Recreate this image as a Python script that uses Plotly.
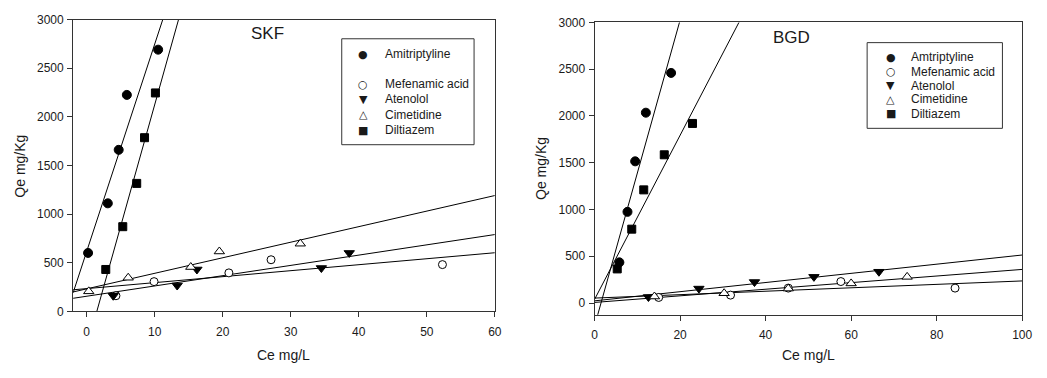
import numpy as np
import plotly.graph_objects as go

W, H = 1047, 378

# ---- SKF sorbent: equilibrium concentration Ce (mg/L) vs sorbed Qe (mg/Kg)
skf_ami_x = [0.2, 3.1, 4.7, 5.9, 10.5]
skf_ami_y = [600, 1110, 1660, 2225, 2690]
skf_mef_x = [4.3, 9.9, 20.9, 27.1, 52.3]
skf_mef_y = [160, 305, 395, 530, 480]
skf_ate_x = [3.9, 13.3, 16.2, 34.5, 38.6]
skf_ate_y = [160, 265, 430, 445, 600]
skf_cim_x = [0.3, 6.1, 15.3, 19.5, 31.4]
skf_cim_y = [205, 345, 455, 615, 695]
skf_dil_x = [2.8, 5.3, 7.35, 8.5, 10.1]
skf_dil_y = [430, 870, 1315, 1785, 2245]

# ---- BGD sorbent
bgd_ami_x = [5.8, 7.7, 9.5, 12.0, 17.9]
bgd_ami_y = [435, 975, 1515, 2035, 2460]
bgd_mef_x = [15.0, 31.8, 45.3, 57.6, 84.3]
bgd_mef_y = [60, 85, 160, 230, 160]
bgd_ate_x = [12.6, 24.4, 37.4, 51.3, 66.5]
bgd_ate_y = [65, 155, 225, 280, 335]
bgd_cim_x = [14.0, 30.3, 45.3, 60.0, 73.1]
bgd_cim_y = [70, 105, 155, 210, 280]
bgd_dil_x = [5.3, 8.7, 11.5, 16.3, 22.9]
bgd_dil_y = [365, 790, 1210, 1585, 1920]

skf_names = ["Amitriptyline", "Mefenamic acid", "Atenolol", "Cimetidine", "Diltiazem"]
bgd_names = ["Amtriptyline", "Mefenamic acid", "Atenolol", "Cimetidine", "Diltiazem"]

skf_xrange = [-2, 60]
skf_yrange = [0, 3000]
bgd_xrange = [0, 100]
bgd_yrange = [-124, 3000]

skf_xticks = [0, 10, 20, 30, 40, 50, 60]
bgd_xticks = [0, 20, 40, 60, 80, 100]
y_ticks = [0, 500, 1000, 1500, 2000, 2500, 3000]

# marker styles per compound: (symbol, fill)
styles = [
    ("circle", "black"),
    ("circle", "white"),
    ("triangle-down", "black"),
    ("triangle-up", "white"),
    ("square", "black"),
]
sizes = [9, 8, 9, 9, 8]
glyphs = ["\u25CF", "\u25CB", "\u25BC", "\u25B3", "\u25A0"]

FONT = "Liberation Sans, Arial, sans-serif"
AXC = "#333333"
TXT = "#1a1a1a"

fig = go.Figure()


def add_panel(xs, ys, xr, xa, ya):
    # linear isotherm fits first so the symbols sit on top
    for x, y in zip(xs, ys):
        k, b = np.polyfit(x, y, 1)
        lx = np.array(xr, dtype=float)
        fig.add_trace(go.Scatter(
            x=lx, y=k * lx + b, mode="lines",
            line=dict(color="black", width=1),
            xaxis=xa, yaxis=ya, showlegend=False, hoverinfo="skip"))
    for (x, y), (sym, fill), sz in zip(zip(xs, ys), styles, sizes):
        fig.add_trace(go.Scatter(
            x=x, y=y, mode="markers",
            marker=dict(symbol=sym, size=sz, color=fill,
                        line=dict(color="black", width=1)),
            xaxis=xa, yaxis=ya, showlegend=False, cliponaxis=False))


add_panel([skf_ami_x, skf_mef_x, skf_ate_x, skf_cim_x, skf_dil_x],
          [skf_ami_y, skf_mef_y, skf_ate_y, skf_cim_y, skf_dil_y],
          skf_xrange, "x", "y")
add_panel([bgd_ami_x, bgd_mef_x, bgd_ate_x, bgd_cim_x, bgd_dil_x],
          [bgd_ami_y, bgd_mef_y, bgd_ate_y, bgd_cim_y, bgd_dil_y],
          bgd_xrange, "x2", "y2")


def axis(domain, rng, ticks, anchor, standoff=0):
    return dict(domain=domain, range=rng, tickvals=ticks, anchor=anchor,
                ticks="outside", ticklen=5, tickwidth=1, tickcolor=AXC,
                ticklabelstandoff=standoff,
                showline=True, linecolor=AXC, linewidth=1, mirror=True,
                showgrid=False, zeroline=False,
                tickfont=dict(family=FONT, size=12, color=TXT))


def px(v):
    return v / W


def py(v):
    return 1 - v / H


fig.update_layout(
    width=W, height=H, margin=dict(l=0, r=0, t=0, b=0),
    paper_bgcolor="white", plot_bgcolor="white",
    xaxis=axis([px(71), px(498)], skf_xrange, skf_xticks, "y", 4),
    yaxis=axis([py(316), py(13)], skf_yrange, y_ticks, "x", 1),
    xaxis2=axis([px(599), px(1032)], bgd_xrange, bgd_xticks, "y2", 4),
    yaxis2=axis([py(319.5), py(16)], bgd_yrange, y_ticks, "x2", 1),
)

ann = []
shapes = []


def text(x, y, s, size, anchor="center", angle=0, family=FONT):
    ann.append(dict(x=px(x), y=py(y), xref="paper", yref="paper", text=s,
                    showarrow=False, xanchor=anchor, yanchor="middle",
                    textangle=angle, font=dict(family=family, size=size, color=TXT)))


# panel titles
text(268, 28, "SKF", 17)
text(798, 32, "BGD", 17)

# axis titles
text(284.5, 361, "Ce mg/L", 14)
text(815.5, 361, "Ce mg/L", 14)
text(17, 165, "Qe mg/Kg", 14, angle=-90)
text(545, 168, "Qe mg/Kg", 14, angle=-90)


def legend(box, rows, mx, tx, names):
    x0, y0, x1, y1 = box
    shapes.append(dict(type="rect", xref="paper", yref="paper",
                       x0=px(x0), x1=px(x1), y0=py(y1), y1=py(y0),
                       line=dict(color=AXC, width=1), fillcolor="white", layer="above"))
    for g, yy, nm in zip(glyphs, rows, names):
        text(mx, yy, g, 11, family="DejaVu Sans")
        text(tx, yy, nm, 12, anchor="left")


legend((343, 33, 477, 143), [49, 80, 96, 112, 128], 365, 385, skf_names)
legend((875, 37, 1012, 126), [52, 67, 82, 96, 111], 899, 917, bgd_names)

fig.update_layout(annotations=ann, shapes=shapes)
fig.write_html("out.html")
